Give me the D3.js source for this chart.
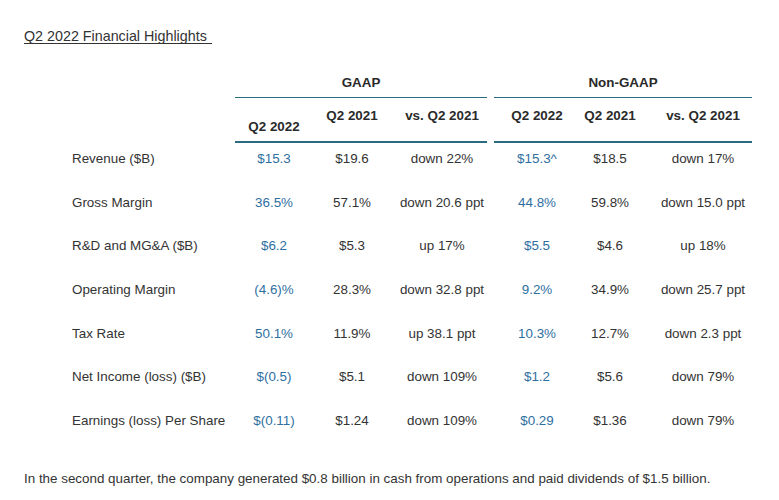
<!DOCTYPE html>
<html><head><meta charset="utf-8">
<script src="https://cdn.jsdelivr.net/npm/d3@7"></script>
<style>body{margin:0;background:#fff}svg{font-family:"Liberation Sans",Arial,sans-serif}</style>
</head><body><svg id="c" width="779" height="500"></svg>
<script>
const title = "Q2 2022 Financial Highlights";
const groups = ["GAAP", "Non-GAAP"];
const columns = ["Q2 2022", "Q2 2021", "vs. Q2 2021", "Q2 2022", "Q2 2021", "vs. Q2 2021"];
const metrics = ["Revenue ($B)", "Gross Margin", "R&D and MG&A ($B)", "Operating Margin", "Tax Rate", "Net Income (loss) ($B)", "Earnings (loss) Per Share"];
const gaapQ22 = ["$15.3", "36.5%", "$6.2", "(4.6)%", "50.1%", "$(0.5)", "$(0.11)"];
const gaapQ21 = ["$19.6", "57.1%", "$5.3", "28.3%", "11.9%", "$5.1", "$1.24"];
const gaapVs = ["down 22%", "down 20.6 ppt", "up 17%", "down 32.8 ppt", "up 38.1 ppt", "down 109%", "down 109%"];
const ngQ22 = ["$15.3^", "44.8%", "$5.5", "9.2%", "10.3%", "$1.2", "$0.29"];
const ngQ21 = ["$18.5", "59.8%", "$4.6", "34.9%", "12.7%", "$5.6", "$1.36"];
const ngVs = ["down 17%", "down 15.0 ppt", "up 18%", "down 25.7 ppt", "down 2.3 ppt", "down 79%", "down 79%"];
const footnote = "In the second quarter, the company generated $0.8 billion in cash from operations and paid dividends of $1.5 billion.";

const series = [gaapQ22, gaapQ21, gaapVs, ngQ22, ngQ21, ngVs];
const svg = d3.select("#c");
const colX = [274, 352, 442, 537, 610, 703];
const y = d3.scalePoint().domain(metrics).range([158, 420]);
const blue = "#2f6f9f", line = "#2b6b80", txt = "#333";
const fs = 13.4;

svg.append("text").attr("x", 24).attr("y", 41).attr("font-size", 14.3).attr("fill", txt).text(title);
svg.append("line").attr("x1", 24).attr("x2", 212).attr("y1", 43.5).attr("y2", 43.5).attr("stroke", txt);

const gx = [[235, 487], [494, 752]];
groups.forEach((g, i) => {
  svg.append("text").attr("x", (gx[i][0] + gx[i][1]) / 2).attr("y", 87).attr("text-anchor", "middle")
    .attr("font-size", 13.4).attr("font-weight", "bold").attr("fill", "#2a2a2a").text(g);
  svg.append("line").attr("x1", gx[i][0]).attr("x2", gx[i][1]).attr("y1", 97.5).attr("y2", 97.5).attr("stroke", line).attr("stroke-width", 1);
  svg.append("line").attr("x1", gx[i][0]).attr("x2", gx[i][1]).attr("y1", 142).attr("y2", 142).attr("stroke", line).attr("stroke-width", 2);
});
columns.forEach((c, i) => {
  svg.append("text").attr("x", colX[i]).attr("y", i === 0 ? 131 : 120).attr("text-anchor", "middle")
    .attr("font-size", 13.4).attr("font-weight", "bold").attr("fill", "#2a2a2a").text(c);
});
metrics.forEach((m, r) => {
  const yy = y(m) + 5;
  svg.append("text").attr("x", 72).attr("y", yy).attr("font-size", fs).attr("fill", txt).text(m);
  series.forEach((s, i) => {
    svg.append("text").attr("x", colX[i]).attr("y", yy).attr("text-anchor", "middle").attr("font-size", fs)
      .attr("fill", (i === 0 || i === 3) ? blue : txt).text(s[r]);
  });
});
svg.append("text").attr("x", 24).attr("y", 483).attr("font-size", fs).attr("fill", txt).text(footnote);
</script></body></html>
